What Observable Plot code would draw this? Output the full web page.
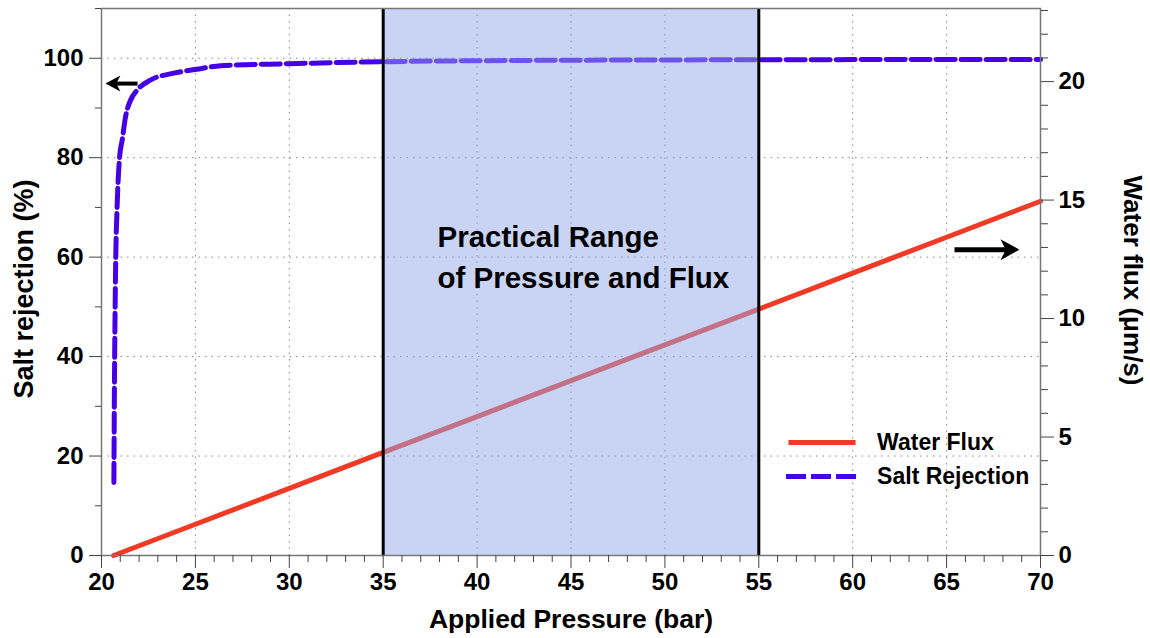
<!DOCTYPE html>
<html>
<head>
<meta charset="utf-8">
<script src="https://cdn.jsdelivr.net/npm/d3@7"></script>
<script src="https://cdn.jsdelivr.net/npm/@observablehq/plot@0.6"></script>
<style>
  html, body { margin: 0; padding: 0; background: #fff; }
  #chart { width: 1150px; height: 638px; }
</style>
</head>
<body>
<div id="chart"></div>
<script>
// ---- data ----
const fluxPressure = [20.65, 25, 30, 35, 40, 45, 50, 55, 60, 65, 70];
const waterFlux    = [0, 1.32, 2.83, 4.35, 5.86, 7.38, 8.89, 10.4, 11.92, 13.43, 14.95];

const saltPressure  = [20.66, 20.69, 20.73, 20.76, 20.83, 20.96, 21.1, 21.28, 21.54, 21.9, 22.6, 23.85, 25.27, 26.34, 30, 35, 40, 45, 50, 55, 60, 65, 70];
const saltRejection = [14.7, 34.5, 51.3, 60, 70, 80, 83.5, 88.2, 91.5, 93.6, 95.6, 97.0, 97.9, 98.5, 98.9, 99.3, 99.5, 99.6, 99.65, 99.7, 99.72, 99.74, 99.75];

const xTicks      = [20, 25, 30, 35, 40, 45, 50, 55, 60, 65, 70];
const leftTicks   = [0, 20, 40, 60, 80, 100];
const rightTicks  = [0, 5, 10, 15, 20];
const practicalRange = [35, 55];
const legendLabels = ["Water Flux", "Salt Rejection"];
const annotationText = "Practical Range\nof Pressure and Flux";

// ---- derived ----
const K = 4.765; // left-axis units per µm/s (right axis mapping)
const fluxData = fluxPressure.map((p, i) => ({p, v: waterFlux[i] * K}));
const saltData = saltPressure.map((p, i) => ({p, v: saltRejection[i]}));
const xMinor = d3.range(21, 70).filter(d => d % 5 !== 0);
const leftMinor = [10, 30, 50, 70, 90, 110];
const rightMinor = d3.range(1, 24).filter(d => d % 5 !== 0).map(d => d * K);

const RED = "#f03a26";
const BLUE = "#4600e6";
const FONT = "'Liberation Sans', Arial, Helvetica, sans-serif";

// arrow-head symbols (tip at the anchor point)
function headSymbol(dir, L, H) {
  return {
    draw(ctx) {
      ctx.moveTo(0, 0);
      ctx.lineTo(-dir * L, -H / 2);
      ctx.lineTo(-dir * L * 0.72, 0);
      ctx.lineTo(-dir * L, H / 2);
      ctx.closePath();
    }
  };
}

const chart = Plot.plot({
  width: 1150,
  height: 638,
  marginLeft: 101,
  marginRight: 110,
  marginTop: 8,
  marginBottom: 83,
  x: {domain: [20, 70]},
  y: {domain: [0, 110]},
  style: {fontFamily: FONT, fontWeight: "bold", fontSize: "24px", color: "black", background: "white"},
  marks: [
    Plot.gridX(xTicks.filter(d => d > 20 && d < 70), {stroke: "#888", strokeOpacity: 1, strokeDasharray: "1.5,5"}),
    Plot.gridY(leftTicks.filter(d => d > 0), {stroke: "#888", strokeOpacity: 1, strokeDasharray: "1.5,5"}),
    Plot.line(fluxData, {x: "p", y: "v", stroke: RED, strokeWidth: 5}),
    Plot.line(saltData, {x: "p", y: "v", stroke: BLUE, strokeWidth: 5, strokeDasharray: "19,6", curve: "monotone-x"}),
    Plot.rect([practicalRange], {x1: d => d[0], x2: d => d[1], y1: 0, y2: 110, fill: "rgb(147,167,231)", fillOpacity: 0.5}),
    Plot.ruleX(practicalRange, {stroke: "black", strokeWidth: 3}),
    Plot.frame({stroke: "#777", strokeWidth: 1.5}),
    // axes
    Plot.axisX(xTicks, {tickSize: 13, tickPadding: 4, label: null, stroke: "#444"}),
    Plot.axisX(xMinor, {tickSize: 7, tickFormat: () => "", label: null, stroke: "#444"}),
    Plot.axisY(leftTicks, {anchor: "left", tickSize: 12, tickPadding: 6, label: null, stroke: "#444"}),
    Plot.axisY(leftMinor, {anchor: "left", tickSize: 6, tickFormat: () => "", label: null, stroke: "#444"}),
    Plot.axisY(rightTicks.map(d => d * K), {anchor: "right", tickSize: 13, tickPadding: 5, tickFormat: d => Math.round(d / K), label: null, stroke: "#444"}),
    Plot.axisY(rightMinor, {anchor: "right", tickSize: 7, tickFormat: () => "", label: null, stroke: "#444"}),
    // axis titles
    Plot.text(["Applied Pressure (bar)"], {frameAnchor: "bottom", dy: 72, fontSize: 26.5, fontWeight: "bold", fill: "black"}),
    Plot.text(["Salt rejection (%)"], {x: 15.9, y: 53.6, rotate: -90, fontSize: 27, fontWeight: "bold", fill: "black"}),
    Plot.text(["Water flux (μm/s)"], {x: 74.9, y: 55.3, rotate: 90, fontSize: 26, fontWeight: "bold", fill: "black"}),
    // annotation
    Plot.text([annotationText], {x: 37.89, y: 60.6, textAnchor: "start", lineAnchor: "middle", lineHeight: 1.4, fontSize: 29.5, fontWeight: "bold", fill: "black"}),
    // legend
    Plot.link([0], {x1: 56.58, x2: 60.15, y1: 22.7, y2: 22.7, stroke: RED, strokeWidth: 5}),
    Plot.link([0], {x1: 56.45, x2: 60.25, y1: 15.9, y2: 15.9, stroke: BLUE, strokeWidth: 5, strokeDasharray: "20,5"}),
    Plot.text(legendLabels, {x: 61.3, y: (d, i) => [22.7, 15.9][i], textAnchor: "start", lineAnchor: "middle", fontSize: 23, fontWeight: "bold", fill: "black"}),
    // arrows
    Plot.link([0], {x1: 21.92, y1: 94.9, x2: 20.7, y2: 94.9, stroke: "black", strokeWidth: 4}),
    Plot.dot([0], {x: 20.21, y: 94.9, symbol: headSymbol(-1, 15, 16), fill: "black", stroke: "none"}),
    Plot.link([0], {x1: 65.42, y1: 61.5, x2: 68.2, y2: 61.5, stroke: "black", strokeWidth: 5}),
    Plot.dot([0], {x: 68.88, y: 61.5, symbol: headSymbol(1, 19, 21), fill: "black", stroke: "none"})
  ]
});
document.getElementById("chart").appendChild(chart);
</script>
</body>
</html>
